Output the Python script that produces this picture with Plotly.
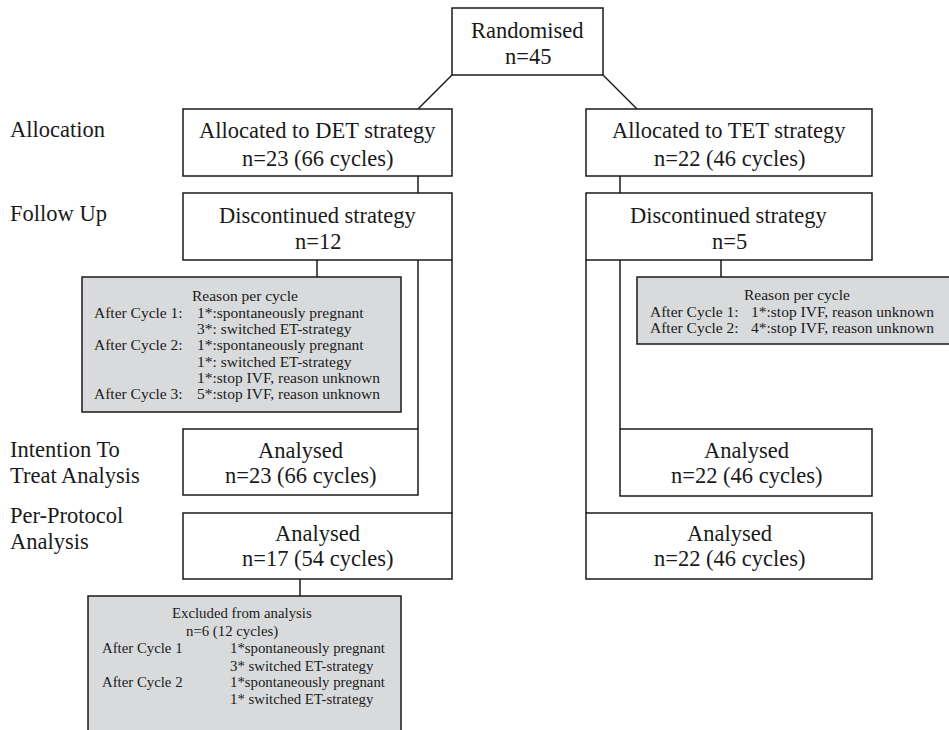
import plotly.graph_objects as go

# ---------------- data ----------------
stage_labels = [["Allocation"], ["Follow Up"], ["Intention To", "Treat Analysis"], ["Per-Protocol", "Analysis"]]
randomised_n = 45
arm_names = ["DET", "TET"]
allocated_n = [23, 22]
allocated_cycles = [66, 46]
discontinued_n = [12, 5]
itt_n = [23, 22]
itt_cycles = [66, 46]
pp_n = [17, 22]
pp_cycles = [54, 46]
excluded_n = 6
excluded_cycles = 12

det_reason_cycle = ["After Cycle 1:", "", "After Cycle 2:", "", "", "After Cycle 3:"]
det_reason_text = ["1*:spontaneously pregnant", "3*: switched ET-strategy",
                   "1*:spontaneously pregnant", "1*: switched ET-strategy",
                   "1*:stop IVF, reason unknown", "5*:stop IVF, reason unknown"]
tet_reason_cycle = ["After Cycle 1:", "After Cycle 2:"]
tet_reason_text = ["1*:stop IVF, reason unknown", "4*:stop IVF, reason unknown"]
excl_cycle = ["After Cycle 1", "", "After Cycle 2", ""]
excl_text = ["1*spontaneously pregnant", "3* switched ET-strategy",
             "1*spontaneously pregnant", "1* switched ET-strategy"]

# ---------------- layout geometry (pixels of the window, y downwards) ----------------
W, H = 949, 730
FONT = "Liberation Serif, Times New Roman, serif"
INK = "#1a1a1a"
GREY = "#d9dadc"
BIG = 22.5
SMALL = 15.5
EXCL = 14.8

fig = go.Figure()
shapes = []
ann = []


def box(x0, y0, x1, y1, fill="white"):
    shapes.append(dict(type="rect", xref="x", yref="y", x0=x0, y0=y0, x1=x1, y1=y1,
                       line=dict(color=INK, width=1.5), fillcolor=fill, layer="above"))


def line(x0, y0, x1, y1):
    shapes.append(dict(type="line", xref="x", yref="y", x0=x0, y0=y0, x1=x1, y1=y1,
                       line=dict(color=INK, width=1.5), layer="below"))


def text(x, y, s, size=BIG, anchor="center"):
    if anchor == "left":
        x -= 3
    ann.append(dict(x=x, y=y, xref="x", yref="y", text=s, showarrow=False,
                    xanchor=anchor, yanchor="middle",
                    font=dict(family=FONT, size=size, color=INK)))


# connectors (drawn below boxes)
line(452, 75, 418, 109)
line(603, 75, 637, 109)
line(418, 176, 418, 193)
line(620, 176, 620, 193)
line(317, 260, 317, 277)
line(418, 260, 418, 429)
line(452, 260, 452, 513)
line(721, 260, 721, 277)
line(620, 260, 620, 429)
line(586, 260, 586, 513)
line(300, 579, 300, 596)

# boxes
box(452, 8, 603, 75)
box(183, 109, 452, 176)
box(586, 109, 872, 176)
box(183, 193, 452, 260)
box(586, 193, 872, 260)
box(82, 277, 401, 412, GREY)
box(637, 277, 960, 344, GREY)
box(183, 429, 418, 495)
box(620, 429, 872, 496)
box(183, 513, 452, 579)
box(586, 513, 872, 579)
box(88, 596, 401, 745, GREY)

# stage labels
stage_y = [[129], [213], [449, 475], [515, 541]]
for lab, ys in zip(stage_labels, stage_y):
    for s, y in zip(lab, ys):
        text(11, y, s, anchor="left")

# main box texts
text(527.5, 30, "Randomised")
text(527.5, 56, f"n={randomised_n}")
arm_cx = [317.5, 729]
itt_cx = [300.5, 746]
for i, arm in enumerate(arm_names):
    text(arm_cx[i], 130, f"Allocated to {arm} strategy")
    text(arm_cx[i], 158, f"n={allocated_n[i]} ({allocated_cycles[i]} cycles)")
    text(arm_cx[i], 215, "Discontinued strategy")
    text(arm_cx[i], 241, f"n={discontinued_n[i]}")
    text(itt_cx[i], 450, "Analysed")
    text(itt_cx[i], 475, f"n={itt_n[i]} ({itt_cycles[i]} cycles)")
    text(arm_cx[i], 533, "Analysed")
    text(arm_cx[i], 558, f"n={pp_n[i]} ({pp_cycles[i]} cycles)")

# DET reasons box
text(245, 295, "Reason per cycle", SMALL)
det_rows = [312, 328.5, 344.5, 361, 377, 393]
for c, t, y in zip(det_reason_cycle, det_reason_text, det_rows):
    if c:
        text(95, y, c, SMALL, "left")
    text(198, y, t, SMALL, "left")

# TET reasons box
text(797, 294, "Reason per cycle", SMALL)
tet_rows = [311.5, 327.5]
for c, t, y in zip(tet_reason_cycle, tet_reason_text, tet_rows):
    text(651, y, c, SMALL, "left")
    text(752, y, t, SMALL, "left")

# Excluded box
text(242, 613, "Excluded from analysis", EXCL)
text(232, 631.5, f"n={excluded_n} ({excluded_cycles} cycles)", EXCL)
excl_rows = [648, 665.5, 682, 699]
for c, t, y in zip(excl_cycle, excl_text, excl_rows):
    if c:
        text(103, y, c, EXCL, "left")
    text(231, y, t, EXCL, "left")

fig.update_layout(
    width=W, height=H, autosize=False,
    margin=dict(l=0, r=0, t=0, b=0),
    paper_bgcolor="white", plot_bgcolor="white",
    xaxis=dict(range=[0, W], visible=False, fixedrange=True),
    yaxis=dict(range=[H, 0], visible=False, fixedrange=True),
    shapes=shapes, annotations=ann, showlegend=False,
)
fig.write_html(
    "out.html",
    config={"displayModeBar": False},
    post_script="document.documentElement.style.overflow='hidden';"
                "document.body.style.margin='0';document.body.style.overflow='hidden';",
)
